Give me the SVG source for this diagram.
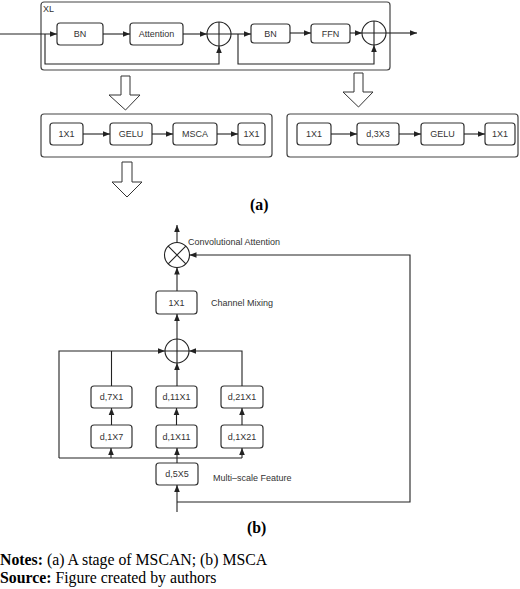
<svg xmlns="http://www.w3.org/2000/svg" width="520" height="589" viewBox="0 0 520 589">
<style>
.box{fill:#fff;stroke:#333;stroke-width:1.2}
.frame{fill:none;stroke:#444;stroke-width:1.2}
.ln{fill:none;stroke:#222;stroke-width:1.1}
.lna{fill:none;stroke:#222;stroke-width:1.1;marker-end:url(#ah)}
.t{font-family:"Liberation Sans",Arial,sans-serif;font-size:9px;fill:#333;text-anchor:middle}
.lbl{font-family:"Liberation Sans",Arial,sans-serif;font-size:9px;fill:#333}
.hol{fill:#fff;stroke:#333;stroke-width:1}
.cap{font-family:"Liberation Serif","Times New Roman",serif;font-size:15.8px;fill:#000}
</style>
<defs>
<marker id="ah" viewBox="0 0 10 10" refX="10" refY="5" markerWidth="7" markerHeight="7" markerUnits="userSpaceOnUse" orient="auto">
<path d="M0,1 L10,5 L0,9 z" fill="#222"/>
</marker>
</defs>

<g id="xl-frame">
<rect class="frame" x="41" y="2" width="349" height="68" rx="3"/>
<text class="lbl" x="43" y="12" font-size="8">XL</text>
</g>
<g id="bn1"><rect class="box" x="57" y="23" width="46" height="22" rx="3"/><text class="t" x="80" y="37">BN</text></g>
<g id="attention"><rect class="box" x="130" y="23" width="53" height="22" rx="3"/><text class="t" x="156.5" y="37">Attention</text></g>
<g id="add1"><circle class="ln" cx="219" cy="34" r="12" fill="#fff"/><path class="ln" d="M207,34 H231 M219,22 V46"/></g>
<g id="bn2"><rect class="box" x="251" y="24" width="39" height="19" rx="3"/><text class="t" x="270.5" y="37">BN</text></g>
<g id="ffn"><rect class="box" x="311" y="24" width="39" height="19" rx="3"/><text class="t" x="330.5" y="37">FFN</text></g>
<g id="add2"><circle class="ln" cx="374" cy="33" r="12" fill="#fff"/><path class="ln" d="M362,33 H386 M374,21 V45"/></g>

<g id="row-left-frame"><rect class="frame" x="41" y="114" width="231" height="43" rx="3"/></g>
<g id="l-1x1a"><rect class="box" x="50" y="123" width="33" height="22" rx="3"/><text class="t" x="66.5" y="137">1X1</text></g>
<g id="l-gelu"><rect class="box" x="110" y="123" width="42" height="22" rx="3"/><text class="t" x="131" y="137">GELU</text></g>
<g id="l-msca"><rect class="box" x="173" y="123" width="44" height="22" rx="3"/><text class="t" x="195" y="137">MSCA</text></g>
<g id="l-1x1b"><rect class="box" x="238" y="123" width="27" height="22" rx="3"/><text class="t" x="251.5" y="137">1X1</text></g>

<g id="row-right-frame"><rect class="frame" x="287" y="114" width="231" height="43" rx="3"/></g>
<g id="r-1x1a"><rect class="box" x="297" y="123" width="34" height="22" rx="3"/><text class="t" x="314" y="137">1X1</text></g>
<g id="r-d3x3"><rect class="box" x="357" y="123" width="42" height="22" rx="3"/><text class="t" x="378" y="137">d,3X3</text></g>
<g id="r-gelu"><rect class="box" x="421" y="123" width="43" height="22" rx="3"/><text class="t" x="442.5" y="137">GELU</text></g>
<g id="r-1x1b"><rect class="box" x="485" y="123" width="30" height="22" rx="3"/><text class="t" x="500" y="137">1X1</text></g>

<g id="hollow-arrows">
<path class="hol" d="M121,76 H130 V95 H140 L125.5,110 L109,95 H121 Z"/>
<path class="hol" d="M354,73 H363 V92 H373 L358.5,107 L343,92 H354 Z"/>
<path class="hol" d="M122,162 H132 V182 H142 L127,197 L112,182 H122 Z"/>
</g>

<g id="label-a"><text class="cap" x="250" y="210" font-weight="bold" font-size="14">(a)</text></g>

<g id="otimes"><circle class="ln" cx="177" cy="255" r="12.5" fill="#fff"/><path class="ln" d="M168.2,246.2 L185.8,263.8 M185.8,246.2 L168.2,263.8"/></g>
<g id="b-1x1"><rect class="box" x="156" y="291" width="41" height="23" rx="3"/><text class="t" x="176.5" y="306">1X1</text></g>
<g id="oplus"><circle class="ln" cx="177" cy="351" r="12" fill="#fff"/><path class="ln" d="M165,351 H189 M177,339 V363"/></g>
<g id="d7x1"><rect class="box" x="91" y="386" width="41" height="22" rx="3"/><text class="t" x="111.5" y="400">d,7X1</text></g>
<g id="d11x1"><rect class="box" x="156" y="386" width="41" height="22" rx="3"/><text class="t" x="176.5" y="400">d,11X1</text></g>
<g id="d21x1"><rect class="box" x="221" y="386" width="42" height="22" rx="3"/><text class="t" x="242" y="400">d,21X1</text></g>
<g id="d1x7"><rect class="box" x="91" y="425" width="41" height="23" rx="3"/><text class="t" x="111.5" y="440">d,1X7</text></g>
<g id="d1x11"><rect class="box" x="156" y="425" width="41" height="23" rx="3"/><text class="t" x="176.5" y="440">d,1X11</text></g>
<g id="d1x21"><rect class="box" x="221" y="425" width="42" height="23" rx="3"/><text class="t" x="242" y="440">d,1X21</text></g>
<g id="d5x5"><rect class="box" x="156" y="463" width="42" height="22" rx="3"/><text class="t" x="177" y="477">d,5X5</text></g>

<g id="b-labels">
<text class="lbl" x="188" y="245">Convolutional Attention</text>
<text class="lbl" x="211" y="306">Channel Mixing</text>
<text class="lbl" x="213" y="481">Multi–scale Feature</text>
</g>

<g id="connectors">
<path class="lna" d="M0,34 H57"/>
<path class="lna" d="M45,34 V64 H219 V46"/>
<path class="lna" d="M103,34 H130"/>
<path class="lna" d="M183,34 H207"/>
<path class="lna" d="M231,34 H251"/>
<path class="lna" d="M238,34 V64 H374 V45"/>
<path class="lna" d="M290,33 H311"/>
<path class="lna" d="M350,33 H362"/>
<path class="lna" d="M386,33 H417"/>

<path class="lna" d="M83,134 H110"/>
<path class="lna" d="M152,134 H173"/>
<path class="lna" d="M217,134 H238"/>
<path class="lna" d="M331,134 H357"/>
<path class="lna" d="M399,134 H421"/>
<path class="lna" d="M464,134 H485"/>

<path class="lna" d="M177,512 V485"/>
<path class="lna" d="M177,502 H410 V255 H189.5"/>
<path class="lna" d="M177,463 V448"/>
<path class="ln" d="M59,458 H242"/>
<path class="lna" d="M111,458 V448"/>
<path class="lna" d="M242,458 V448"/>
<path class="lna" d="M59,458 V351 H165"/>
<path class="lna" d="M111.5,425 V408"/>
<path class="lna" d="M176.5,425 V408"/>
<path class="lna" d="M242,425 V408"/>
<path class="ln" d="M111.5,386 V351"/>
<path class="lna" d="M177,386 V363"/>
<path class="lna" d="M242,386 V351 H189"/>
<path class="lna" d="M177,339 V314"/>
<path class="lna" d="M177,291 V267.5"/>
<path class="lna" d="M177,242.5 V225"/>
</g>

<g id="label-b"><text class="cap" x="247" y="533" font-weight="bold" font-size="14">(b)</text></g>

<g id="caption">
<text class="cap" x="0" y="565"><tspan font-weight="bold">Notes:</tspan> (a) A stage of MSCAN; (b) MSCA</text>
<text class="cap" x="0" y="583"><tspan font-weight="bold">Source:</tspan> Figure created by authors</text>
</g>
</svg>
